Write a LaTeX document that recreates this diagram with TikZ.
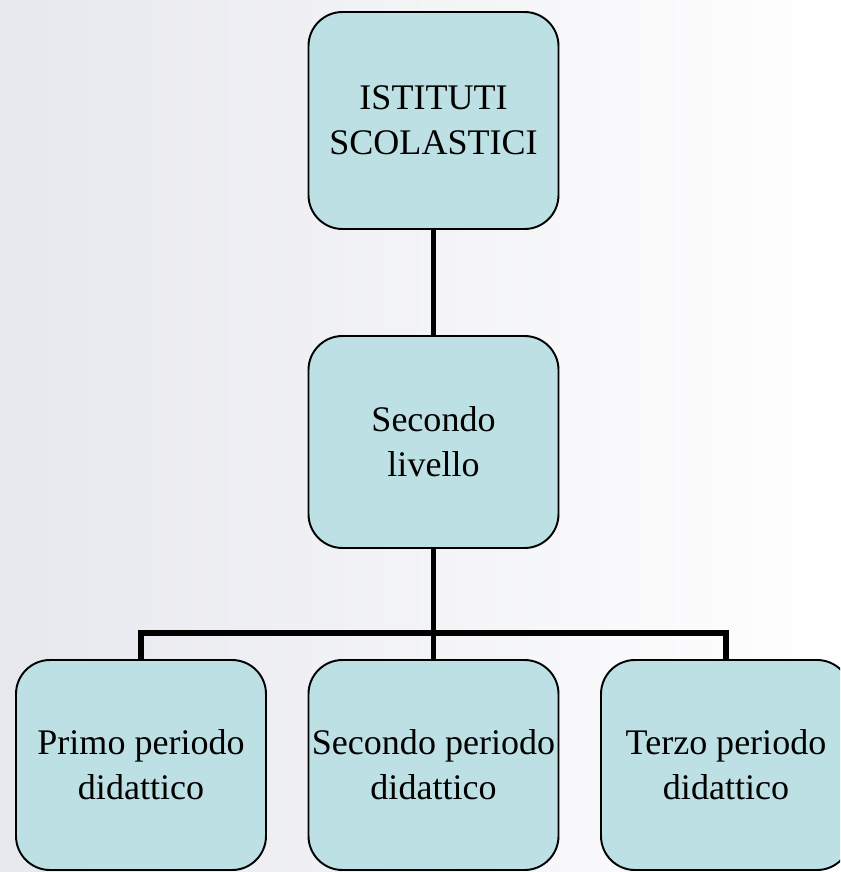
\documentclass[tikz,border=0pt]{standalone}
\usepackage{fontspec}
\setmainfont{Liberation Serif}
\usepackage{xcolor}
\usepackage{tikz}
\usetikzlibrary{positioning,calc}

\definecolor{boxfill}{RGB}{188,224,227}
\definecolor{bgleft}{RGB}{231,232,238}

\begin{document}
\begin{tikzpicture}[
        livbox/.style = {draw, line width=1.1pt, rounded corners=0.68cm, fill=boxfill,
                         minimum width=5.0cm, inner xsep=0pt, align=center,
                         font=\fontsize{20.5}{25.5}\selectfont},
        link/.style = {line width=3.3pt}
    ]
            % page and background
            \useasboundingbox (0,0) rectangle (16.8,-17.44);
            \clip (0,0) rectangle (16.8,-17.44);
            \shade[left color=bgleft, right color=white] (0,0) rectangle (16.8,-17.44);

            \node[livbox, minimum height=4.34cm] (ist) at (8.67, -2.41) {ISTITUTI\\SCOLASTICI};
            \node[livbox, minimum height=4.24cm] (sec) at (8.67, -8.84) {Secondo\\livello};

            \node[livbox, minimum height=4.2cm] (primo) at (2.82, -15.3) {Primo periodo\\didattico};
            \node[livbox, minimum height=4.2cm] (secondo) at (8.67, -15.3) {Secondo periodo\\didattico};
            \node[livbox, minimum height=4.2cm] (terzo) at (14.52, -15.3) {Terzo periodo\\didattico};

            \coordinate (split) at (8.67, -12.66);

            \draw[link] (ist) -- (sec);
            \draw[link] (sec) -- (split);
            \draw[link] (primo) |- (split) -| (terzo);
            \draw[link] (split) -- (secondo);

        \end{tikzpicture}
\end{document}
